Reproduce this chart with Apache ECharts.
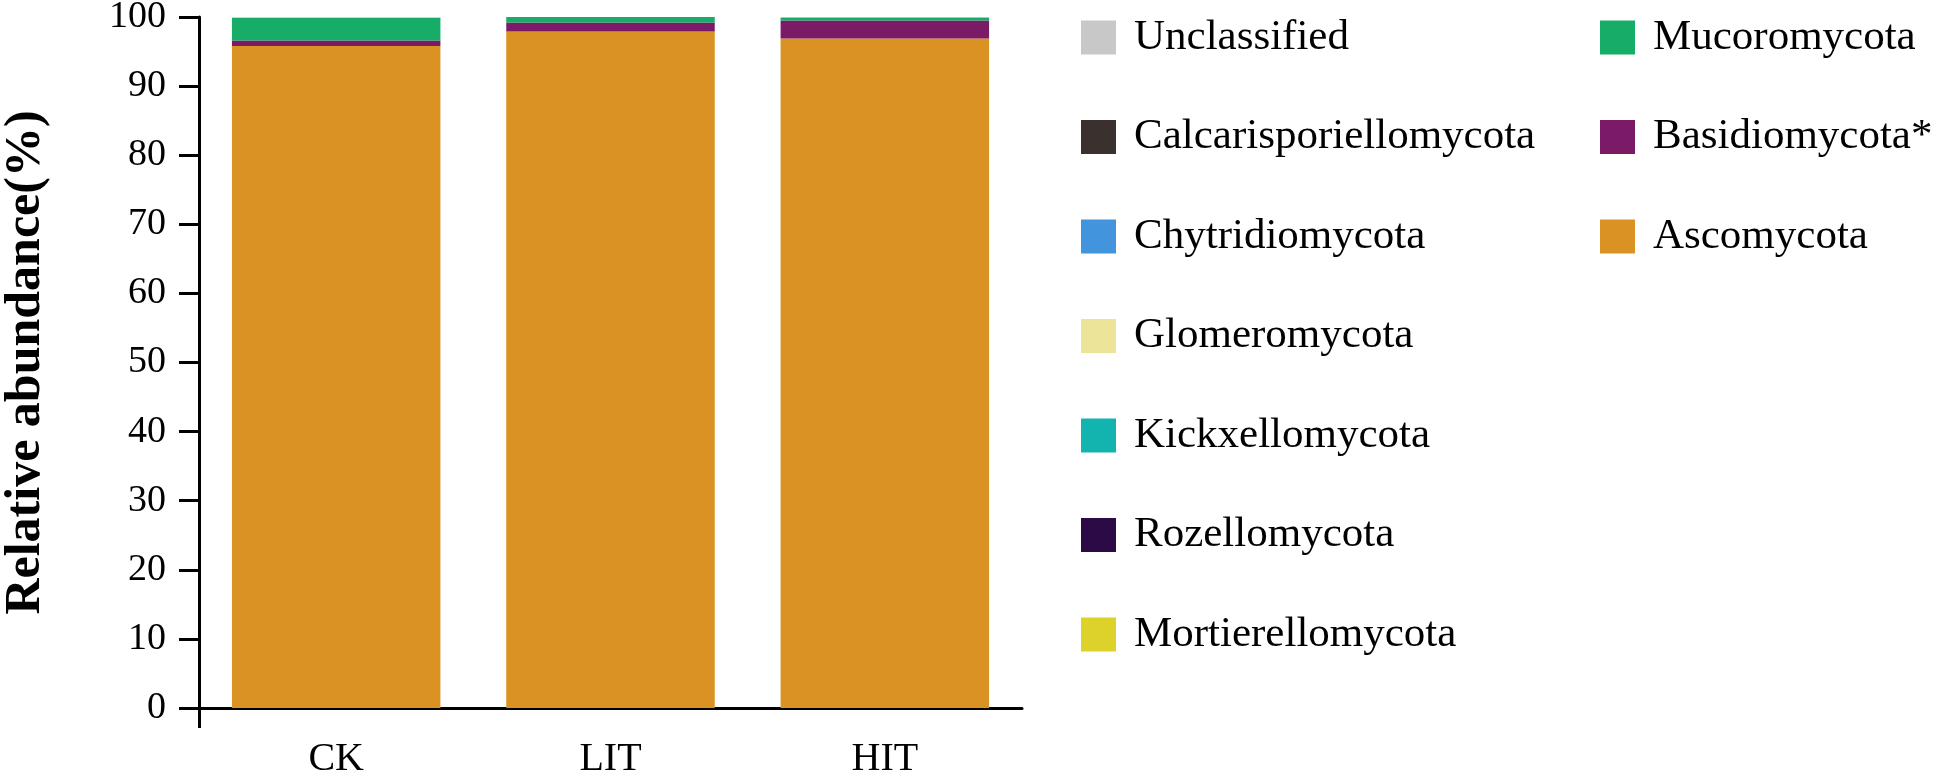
<!DOCTYPE html>
<html>
<head>
<meta charset="utf-8">
<script src="https://cdn.jsdelivr.net/npm/echarts@6/dist/echarts.min.js"></script>
<style>
  html, body { margin: 0; padding: 0; background: #fff; }
  #chart { width: 1950px; height: 773px; }
</style>
</head>
<body>
<div id="chart"></div>
<script>
var groups = ['CK', 'LIT', 'HIT'];

// stack order, bottom -> top
var phyla = ['Ascomycota', 'Basidiomycota*', 'Mucoromycota', 'Mortierellomycota', 'Rozellomycota',
  'Kickxellomycota', 'Glomeromycota', 'Chytridiomycota', 'Calcarisporiellomycota', 'Unclassified'];
var colors = ['#DA9322', '#7B1B68', '#17AD68', '#DDD22A', '#2C0A45',
  '#13B4B0', '#ECE599', '#4294DC', '#3A302E', '#C8C8C8'];

var ascomycota = [95.8, 97.9, 96.9];
var basidiomycota = [0.8, 1.3, 2.6];
var mucoromycota = [3.3, 0.75, 0.35];
var mortierellomycota = [0.05, 0.03, 0.12];
var rozellomycota = [0.01, 0.01, 0.01];
var kickxellomycota = [0.01, 0.01, 0.01];
var glomeromycota = [0.02, 0.01, 0.02];
var chytridiomycota = [0.01, 0.01, 0.01];
var calcarisporiellomycota = [0.01, 0, 0.01];
var unclassified = [0.02, 0.02, 0.03];

var values = [ascomycota, basidiomycota, mucoromycota, mortierellomycota, rozellomycota,
  kickxellomycota, glomeromycota, chytridiomycota, calcarisporiellomycota, unclassified];

var legendCol1 = ['Unclassified', 'Calcarisporiellomycota', 'Chytridiomycota', 'Glomeromycota',
  'Kickxellomycota', 'Rozellomycota', 'Mortierellomycota'];
var legendCol2 = ['Mucoromycota', 'Basidiomycota*', 'Ascomycota'];

var font = '"Liberation Serif", "Times New Roman", serif';

var series = [];
for (var i = 0; i < phyla.length; i++) {
  series.push({
    name: phyla[i],
    type: 'bar',
    stack: 'total',
    barCategoryGap: '24%',
    itemStyle: { color: colors[i] },
    data: values[i]
  });
}

function legendOpt(data, left) {
  return {
    data: data,
    orient: 'vertical',
    left: left,
    top: 16,
    padding: 0,
    icon: 'rect',
    itemWidth: 35,
    itemHeight: 34,
    itemGap: 56.5,
    selectedMode: false,
    textStyle: {
      fontFamily: font,
      fontSize: 43,
      color: '#000',
      padding: [0, 0, 0, 13]
    }
  };
}

var option = {
  animation: false,
  color: colors,
  grid: { left: 199, right: 928, top: 17, bottom: 65, outerBoundsMode: 'none', containLabel: false },
  legend: [legendOpt(legendCol1, 1081), legendOpt(legendCol2, 1600)],
  xAxis: [{
    type: 'category',
    data: groups,
    axisLine: { lineStyle: { color: '#000', width: 3 } },
    axisTick: { alignWithLabel: true, length: 20, lineStyle: { color: '#000', width: 3 } },
    axisLabel: { color: '#000', fontFamily: font, fontSize: 40, margin: 31 }
  }, {
    // only used to draw the downward stub at the left end of the x axis
    type: 'value',
    min: 0,
    max: 1,
    position: 'bottom',
    axisLine: { show: false },
    splitLine: { show: false },
    axisLabel: { show: false },
    axisTick: { show: true, customValues: [0], length: 20, lineStyle: { color: '#000', width: 3 } }
  }],
  yAxis: {
    type: 'value',
    min: 0,
    max: 100,
    interval: 10,
    name: 'Relative abundance(%)',
    nameLocation: 'middle',
    nameGap: 148,
    nameTextStyle: { color: '#000', fontFamily: font, fontSize: 50, fontWeight: 'bold' },
    axisLine: { show: true, lineStyle: { color: '#000', width: 3 } },
    axisTick: { show: true, length: 20, lineStyle: { color: '#000', width: 3 } },
    axisLabel: { color: '#000', fontFamily: font, fontSize: 38, margin: 33 },
    splitLine: { show: false }
  },
  series: series
};

var myChart = echarts.init(document.getElementById('chart'));
myChart.setOption(option);
</script>
</body>
</html>
